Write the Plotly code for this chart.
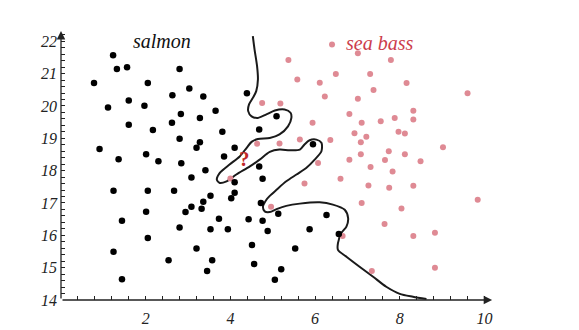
import plotly.graph_objects as go

# salmon (black) points: lightness, width
salmon_x = [1.23, 0.78, 1.32, 1.56, 2.80, 2.05, 3.03, 2.63, 3.36, 1.60, 1.11, 1.97, 2.83, 3.28, 3.65, 4.39,
            1.60, 2.17, 2.62, 3.81, 2.80, 3.28, 3.20, 4.10, 0.91, 1.36, 2.01, 2.30, 2.84, 3.85, 3.41, 3.08,
            4.10, 1.24, 2.05, 2.67, 3.53, 4.10, 4.02, 3.36, 3.08, 2.94, 3.32, 2.01, 1.44, 3.73, 4.43, 2.80,
            3.53, 3.94, 2.05, 1.24, 3.20, 2.54, 3.57, 3.45, 1.44, 5.09, 4.68, 5.95, 4.68, 4.76, 4.72, 5.13,
            4.76, 4.88, 5.87, 6.27, 6.56, 4.51, 5.53, 4.56, 5.20, 5.05]
salmon_y = [21.57, 20.71, 21.14, 21.20, 21.14, 20.71, 20.54, 20.33, 20.29, 20.17, 19.95, 20.01, 19.75, 19.63, 19.85, 20.39,
            19.42, 19.26, 19.48, 19.20, 18.99, 18.88, 18.71, 18.71, 18.67, 18.35, 18.51, 18.29, 18.23, 18.44, 18.01, 17.79,
            17.64, 17.38, 17.38, 17.38, 17.22, 17.32, 17.15, 17.04, 16.88, 16.72, 16.82, 16.73, 16.45, 16.51, 16.50, 16.24,
            16.19, 16.19, 15.92, 15.49, 15.59, 15.23, 15.23, 14.90, 14.64, 19.68, 19.27, 18.82, 18.13, 17.75, 17.00, 16.67,
            16.45, 16.13, 16.19, 16.63, 16.04, 15.70, 15.59, 15.11, 14.95, 14.63]

# sea bass (pink) points
bass_x = [6.40, 7.01, 5.37, 7.79, 6.49, 7.30, 5.58, 6.11, 7.38, 6.23, 7.01, 4.75, 5.18, 6.81, 7.88, 7.10,
          7.55, 5.94, 6.93, 7.21, 5.64, 6.36, 7.08, 4.63, 5.16, 6.07, 7.08, 6.81, 7.31, 7.74, 7.65, 8.16,
          9.60, 8.32, 8.32, 7.97, 8.12, 9.02, 8.12, 8.49, 7.83, 4.00, 6.60, 5.75, 7.26, 7.75, 8.32, 7.10,
          4.96, 7.64, 6.65, 7.34, 9.84, 8.04, 8.32, 8.83, 8.83]
bass_y = [21.90, 21.63, 21.42, 21.42, 20.99, 20.99, 20.82, 20.72, 20.49, 20.29, 20.22, 20.09, 20.08, 19.75, 19.63, 19.48,
          19.53, 19.48, 19.16, 19.05, 18.96, 18.95, 18.88, 18.83, 18.84, 18.24, 18.51, 18.34, 18.11, 18.60, 18.33, 20.71,
          20.39, 19.85, 19.58, 19.20, 19.15, 18.72, 18.51, 18.29, 17.97, 17.76, 17.75, 17.60, 17.54, 17.47, 17.53, 17.00,
          16.88, 16.35, 15.98, 14.90, 17.10, 16.83, 15.98, 16.08, 15.00]

# decision boundary
curve_x = [4.53, 4.57, 4.63, 4.65, 4.61, 4.53, 4.44, 4.42, 4.50, 4.65, 4.85, 5.05, 5.28, 5.42, 5.44, 5.36,
           5.16, 4.93, 4.65, 4.50, 4.38, 4.22, 3.98, 3.75, 3.68, 3.75, 3.91, 4.14, 4.46, 4.69, 4.93, 5.16,
           5.40, 5.64, 5.75, 5.87, 6.03, 6.15, 6.15, 5.99, 5.79, 5.56, 5.32, 5.09, 4.93, 4.85, 4.77, 4.81,
           4.93, 5.09, 5.32, 5.64, 6.11, 6.42, 6.70, 6.78, 6.74, 6.62, 6.54, 6.54, 6.74, 7.05, 7.37, 7.68,
           8.00, 8.31, 8.63]
curve_y = [22.16, 21.75, 21.23, 20.82, 20.46, 20.25, 20.05, 19.84, 19.68, 19.63, 19.74, 19.86, 19.89, 19.79, 19.63, 19.37,
           19.12, 19.01, 18.98, 18.89, 18.70, 18.44, 18.19, 17.93, 17.72, 17.62, 17.67, 17.88, 18.13, 18.34, 18.58, 18.65,
           18.63, 18.65, 18.81, 18.94, 18.96, 18.86, 18.60, 18.34, 18.08, 17.88, 17.67, 17.41, 17.22, 17.10, 16.89, 16.74,
           16.72, 16.81, 16.91, 16.98, 17.02, 16.95, 16.79, 16.53, 16.27, 16.07, 15.76, 15.55, 15.34, 15.03, 14.72, 14.41,
           14.19, 14.10, 14.03]

x_ticks = [2, 4, 6, 8, 10]
y_ticks = [14, 15, 16, 17, 18, 19, 20, 21, 22]

SERIF = "Liberation Serif"

fig = go.Figure()
fig.add_trace(go.Scatter(x=curve_x, y=curve_y, mode="lines",
                         line=dict(color="#1a1a1a", width=2, shape="spline", smoothing=0.8),
                         hoverinfo="skip"))
fig.add_trace(go.Scatter(x=bass_x, y=bass_y, mode="markers",
                         marker=dict(color="#df8a94", size=6)))
fig.add_trace(go.Scatter(x=salmon_x, y=salmon_y, mode="markers",
                         marker=dict(color="black", size=6.5)))

# axes arrows
fig.add_annotation(x=10.18, y=14, ax=0, ay=14, xref="x", yref="y", axref="x", ayref="y",
                   showarrow=True, arrowhead=2, arrowsize=1.3, arrowwidth=1.3, arrowcolor="#222", text="")
fig.add_annotation(x=0, y=22.32, ax=0, ay=14, xref="x", yref="y", axref="x", ayref="y",
                   showarrow=True, arrowhead=2, arrowsize=1.3, arrowwidth=1.3, arrowcolor="#222", text="")

fig.add_annotation(x=2.38, y=22.0, xref="x", yref="y", text="salmon", showarrow=False,
                   font=dict(family=SERIF, size=20, color="#111", style="italic"))
fig.add_annotation(x=7.53, y=21.94, xref="x", yref="y", text="sea bass", showarrow=False,
                   font=dict(family=SERIF, size=20, color="#cc3d4c", style="italic"))
fig.add_annotation(x=4.34, y=18.36, xref="x", yref="y", text="?", showarrow=False,
                   font=dict(family=SERIF, size=21, color="#c0282a", weight="bold"))
fig.add_annotation(x=-0.12, y=22.78, xref="x", yref="y", text="width", showarrow=False,
                   font=dict(family=SERIF, size=17, color="#111", style="italic"))
fig.add_annotation(x=11.18, y=13.88, xref="x", yref="y", text="lightness", showarrow=False,
                   font=dict(family=SERIF, size=17, color="#111", style="italic"))

tickfont = dict(family=SERIF, size=16, color="#222", style="italic")
fig.update_xaxes(range=[0, 10.39], tickmode="array", tickvals=x_ticks, ticks="inside", ticklen=4,
                 tickcolor="#222", tickfont=tickfont, showgrid=False, zeroline=False, showline=False,
                 ticklabelstandoff=7, automargin=False,
                 minor=dict(tickmode="linear", tick0=0, dtick=0.4, ticks="inside", ticklen=4, tickcolor="#222",
                            showgrid=False))
fig.update_yaxes(range=[14, 22.38], tickmode="array", tickvals=y_ticks, ticks="inside", ticklen=4,
                 tickcolor="#222", tickfont=tickfont, showgrid=False, zeroline=False, showline=False,
                 ticklabelstandoff=3, automargin=False,
                 minor=dict(tickmode="linear", tick0=14, dtick=0.2, ticks="inside", ticklen=4, tickcolor="#222",
                            showgrid=False))
fig.update_layout(width=579, height=330, margin=dict(l=61, r=78, t=29, b=30),
                  plot_bgcolor="white", paper_bgcolor="white", showlegend=False)
fig.write_html("out.html")
